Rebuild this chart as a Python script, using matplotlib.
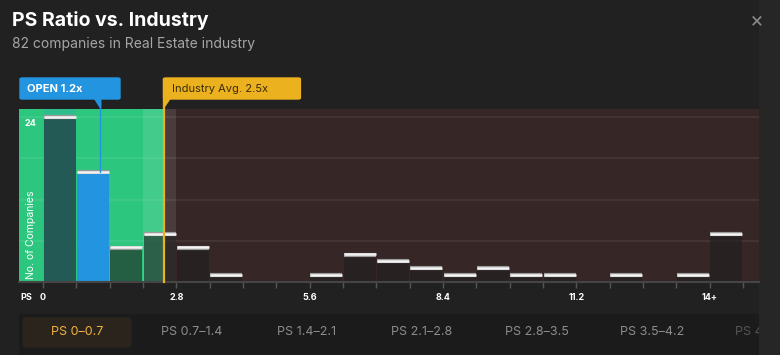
import matplotlib
matplotlib.use("Agg")
import matplotlib.pyplot as plt
import matplotlib.transforms as mtransforms
from matplotlib.patches import Rectangle, FancyBboxPatch, Polygon
import numpy as np

plt.rcParams['font.family'] = ['Inter', 'DejaVu Sans']

# --- data ---
bin_width = 0.7
counts = [24, 16, 5, 7, 5, 1, 0, 0, 1, 4, 3, 2, 1, 2, 1, 1, 0, 1, 0, 1, 7]
tick_values = [0, 2.8, 5.6, 8.4, 11.2, 14]
tick_labels = ['0', '2.8', '5.6', '8.4', '11.2', '14+']
company_name = 'OPEN'
company_ps = 1.2
industry_avg_ps = 2.55
tab_labels = ['PS 0–0.7', 'PS 0.7–1.4', 'PS 1.4–2.1', 'PS 2.1–2.8',
              'PS 2.8–3.5', 'PS 3.5–4.2', 'PS 4.2–4.9']
selected_bin = 0

BG = '#212121'
GREEN = '#2dc67e'
BROWN = '#362626'
BLUE = '#2394e0'
YELLOW = '#ecb11f'

W, H = 780, 355
fig = plt.figure(figsize=(W / 100, H / 100), dpi=100)
fig.patch.set_facecolor(BG)

def fx(px):
    return px / W

def fy(py):
    return 1 - py / H

# header
fig.text(fx(12), fy(20), 'PS Ratio vs. Industry', color='white', fontsize=14,
         fontweight='bold', va='center', ha='left')
fig.text(fx(12), fy(44), '82 companies in Real Estate industry', color='#a6a6a6',
         fontsize=10, va='center', ha='left')
fig.text(fx(757), fy(20), '×', color='#8a8a8a', fontsize=15, va='center', ha='center')

# right strip
fig.add_artist(Rectangle((fx(759), 0), fx(21), 1, transform=fig.transFigure,
                         color='#262626', zorder=0))

# main histogram axes
left_px, right_px, top_px, bot_px = 19, 759, 109, 282
ax = fig.add_axes([fx(left_px), fy(bot_px), (right_px - left_px) / W, (bot_px - top_px) / H])
x0_px = 43
px_per_unit = bin_width / (33.33)
ax.set_xlim((left_px - x0_px) * px_per_unit, (right_px - x0_px) * px_per_unit)
ax.set_ylim(0, 25.2)
ax.set_facecolor(BROWN)

xmin, xmax = ax.get_xlim()
ax.axvspan(xmin, industry_avg_ps, color=GREEN, zorder=0, lw=0)
ax.axvspan(selected_bin * bin_width, (selected_bin + 1) * bin_width, color='#30bd8d', zorder=0.5, lw=0)
avg_bin = int(industry_avg_ps // bin_width)
ax.axvspan(avg_bin * bin_width, (avg_bin + 1) * bin_width, color='white', alpha=0.1, zorder=0.5, lw=0)

for gy in [6, 12, 18, 24]:
    ax.axhline(gy, color='white', alpha=0.08, lw=1.2, zorder=1)

lefts = np.arange(len(counts)) * bin_width
company_bin = int(company_ps // bin_width)
colors = []
alphas = []
for i in range(len(counts)):
    if i == selected_bin:
        colors.append('#235a55')
    elif i == company_bin:
        colors.append(BLUE)
    else:
        colors.append((0.12, 0.12, 0.12, 0.62))
bw = bin_width * 0.96
ax.bar(lefts + bin_width * 0.02, counts, width=bw, align='edge', color=colors, lw=0, zorder=2)
for l, c in zip(lefts, counts):
    if c > 0:
        ax.plot([l + bin_width * 0.02, l + bin_width * 0.02 + bw], [c, c], color='#9a9a9a',
                lw=3, zorder=3, solid_capstyle='butt')
        ax.plot([l + bin_width * 0.02, l + bin_width * 0.02 + bw], [c + 0.05, c + 0.05], color='#f4f4f4',
                lw=1.8, zorder=3.1, solid_capstyle='butt')

# spines / ticks
for s in ['top', 'right', 'left']:
    ax.spines[s].set_visible(False)
ax.spines['bottom'].set_color('#454545')
ax.spines['bottom'].set_linewidth(1.5)
ax.set_yticks([])
edges = np.arange(len(counts) + 1) * bin_width
ax.set_xticks(edges)
ax.set_xticklabels([''] * len(edges))
ax.tick_params(axis='x', length=4, color='#555555', width=1)
xform = mtransforms.blended_transform_factory(ax.transData, fig.transFigure)
for v, lab in zip(tick_values, tick_labels):
    fig.text(0, fy(297), lab, transform=xform, color='white', fontsize=6.5,
             fontweight='bold', ha='center', va='center')
    fig.texts[-1].set_x(v)
fig.text(fx(26), fy(297), 'PS', color='white', fontsize=6.5, fontweight='bold',
         ha='center', va='center')

fig.text(fx(30), fy(124), '24', color='white', fontsize=6.5, fontweight='bold',
         ha='center', va='center')
fig.text(fx(31), fy(235), 'No. of Companies', color='white', fontsize=7.5,
         rotation=90, ha='center', va='center')

# company marker
bx = mtransforms.blended_transform_factory(ax.transData, fig.transFigure)
ax.plot([company_ps, company_ps], [counts[company_bin], 26.5], color=BLUE, lw=1,
        zorder=4, clip_on=False)
ax.plot([industry_avg_ps, industry_avg_ps], [0, 26.5], color=YELLOW, lw=1.6,
        zorder=4, clip_on=False)

def box(x_left_px, x_right_px, color):
    fig.add_artist(FancyBboxPatch((fx(x_left_px), fy(99)), (x_right_px - x_left_px) / W, 21 / H,
                                  boxstyle='round,pad=0,rounding_size=0.003',
                                  transform=fig.transFigure, color=color, zorder=5))

cpx = x0_px + company_ps / px_per_unit
apx = x0_px + industry_avg_ps / px_per_unit
box(20, 120, BLUE)
box(apx - 1, apx + 136, YELLOW)
fig.add_artist(Polygon([(fx(cpx + 0.5), fy(98)), (fx(cpx - 6), fy(98)), (fx(cpx + 0.5), fy(108))],
                       transform=fig.transFigure, color=BLUE, zorder=5))
fig.add_artist(Polygon([(fx(apx - 0.8), fy(98)), (fx(apx + 6), fy(98)), (fx(apx - 0.8), fy(108))],
                       transform=fig.transFigure, color=YELLOW, zorder=5))
fig.text(fx(27), fy(89), f'{company_name} {company_ps}x', color='white', fontsize=8,
         fontweight='bold', ha='left', va='center', zorder=6)
fig.text(fx(apx + 8), fy(89), 'Industry Avg. 2.5x', color='#3a2c08', fontsize=8,
         ha='left', va='center', zorder=6)

# bottom tabs
tab = fig.add_axes([fx(19), 0, 740 / W, 41 / H])
tab.set_xlim(19, 759)
tab.set_ylim(355, 314)
tab.set_facecolor('#1b1b1b')
tab.axis('off')
tab.add_patch(Rectangle((19, 314), 740, 41, color='#1b1b1b', zorder=0))
tab.add_patch(FancyBboxPatch((23, 318), 108, 29, boxstyle='round,pad=0,rounding_size=3',
                             color='#2a241c', zorder=1))
for i, lab in enumerate(tab_labels):
    cx = 77 + i * 115
    if i == selected_bin:
        col = '#f0b23e'
    elif i == len(tab_labels) - 1:
        col = '#555555'
    else:
        col = '#8c8c8c'
    tab.text(cx, 332, lab, color=col, fontsize=9, ha='center', va='center', clip_on=True, zorder=2)

fig.savefig('out.png', dpi=100, facecolor=BG)
